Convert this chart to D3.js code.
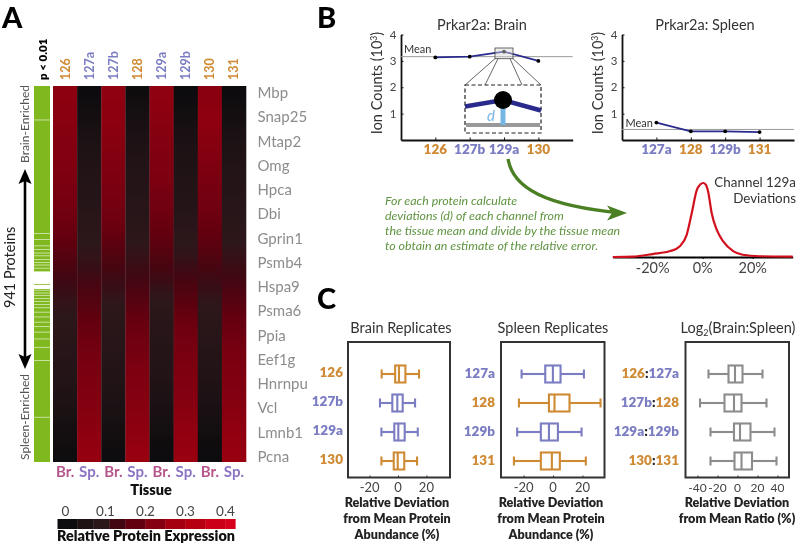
<!DOCTYPE html>
<html><head><meta charset="utf-8">
<script src="https://cdn.jsdelivr.net/npm/d3@7"></script>
<style>
html,body{margin:0;padding:0;background:#fff}
svg{display:block;filter:blur(0.45px)}
text{font-family:Lato,"Open Sans",sans-serif}
</style></head><body>
<svg id="c" width="800" height="546"></svg>
<script>
// ---------- Panel A data ----------
const channels=["126","127a","127b","128","129a","129b","130","131"];
const tissues=["Br.","Sp.","Br.","Sp.","Br.","Sp.","Br.","Sp."];
const genes=["Mbp","Snap25","Mtap2","Omg","Hpca","Dbi","Gprin1","Psmb4","Hspa9","Psma6","Ppia","Eef1g","Hnrnpu","Vcl","Lmnb1","Pcna"];
const ch126 =[.235,.235,.23,.23,.225,.22,.22,.215,.21,.205,.2,.19,.18,.17,.155,.14,.125,.115,.105,.095,.09,.085,.08,.07,.065,.055,.05,.04,.03,.02,.012,.005];
const ch127a=[.003,.01,.02,.03,.04,.05,.055,.06,.065,.07,.075,.085,.09,.095,.105,.115,.13,.145,.155,.17,.18,.19,.2,.205,.21,.215,.22,.225,.23,.24,.245,.25];
const ch127b=[.24,.24,.235,.235,.23,.225,.22,.215,.21,.205,.2,.19,.18,.165,.15,.135,.12,.11,.1,.09,.085,.08,.075,.07,.06,.055,.045,.04,.03,.02,.01,.005];
const ch128 =[.008,.015,.025,.035,.045,.05,.06,.065,.07,.075,.08,.085,.09,.1,.11,.12,.13,.145,.16,.175,.185,.195,.2,.21,.215,.22,.225,.23,.235,.24,.25,.255];
const ch129a=[.24,.24,.235,.23,.225,.22,.215,.215,.21,.2,.195,.185,.175,.165,.15,.135,.12,.105,.095,.085,.08,.075,.07,.065,.06,.05,.045,.035,.025,.015,.008,.002];
const ch129b=[.002,.008,.018,.028,.038,.045,.05,.055,.06,.065,.07,.08,.09,.095,.105,.12,.135,.15,.165,.18,.19,.2,.205,.21,.215,.22,.225,.23,.24,.245,.25,.26];
const ch130 =[.23,.23,.235,.24,.23,.225,.22,.21,.205,.2,.195,.185,.175,.165,.15,.135,.12,.11,.1,.09,.085,.08,.07,.065,.06,.05,.045,.035,.025,.015,.008,.003];
const ch131 =[.003,.01,.02,.03,.04,.05,.055,.065,.07,.075,.08,.085,.09,.1,.11,.12,.13,.145,.16,.175,.185,.195,.205,.21,.215,.22,.225,.23,.24,.245,.25,.255];
const heatColumns=[ch126,ch127a,ch127b,ch128,ch129a,ch129b,ch130,ch131];
const proteinCount=941;
const notSignificant=[[84,86],[368,370],[383,385],[399,401],[408,410],[417,419],[424,426],[433,435],[441,443],[447,449],[455,457],[464,496],[498,508],[510,512],[517,519],[523,525],[531,533],[538,540],[546,548],[554,556],[565,567],[577,579],[590,592],[601,603],[615,617],[632,634],[653,655],[686,688],[828,830]];
const colorStops=[0,.05,.1,.125,.17,.22,.27,.33,.4];
const colorValues=["#0b0b0d","#1e1215","#2e171b","#3f0812","#60000f","#820010","#a30010","#b8000f","#d5001a"];
const legendSteps=[-.02,.03,.07,.11,.15,.2,.25,.3,.35,.4];
const legendTicks=[0,.1,.2,.3,.4];
// ---------- Panel B data ----------
const brainChannels=["126","127b","129a","130"];
const brainCounts=[3.13,3.16,3.35,3.0];
const brainMean=3.16;
const spleenChannels=["127a","128","129b","131"];
const spleenCounts=[.66,.33,.33,.3];
const spleenMean=.4;
const countTicks=[1,2,3,4];
const devX=[-36,-28,-20,-13,-9,-6.4,-4.4,-2.4,-1,.2,1.2,2.2,3.6,5.6,8.2,12.2,16,22.8,36];
const devY=[0,.005,.04,.08,.15,.3,.59,.9,.98,1,.98,.88,.59,.37,.21,.08,.03,.01,.005];
const devTicks=[-20,0,20];
// ---------- Panel C data: [low whisker, q1, median, q3, high whisker] ----------
const brainRows=["126","127b","129a","130"];
const brainBoxes=[[-11.5,-2,.7,5.2,14.8],[-12.7,-4,-.5,3.3,12],[-11.7,-2.6,.2,4.7,13.9],[-11.7,-3,-.2,4.4,13.4]];
const spleenRows=["127a","128","129b","131"];
const spleenBoxes=[[-21.4,-5.3,-.1,5.1,21],[-23.2,-2.8,1,11.2,32.3],[-24.4,-8.3,-2.8,3.3,19.4],[-26.6,-8.3,-.8,4.6,22.3]];
const ratioRows=[["126","127a"],["127b","128"],["129a","129b"],["130","131"]];
const ratioBoxes=[[-29,-9,-2.5,5,25],[-37.5,-13,-3.5,4,29],[-27,-3.5,2.5,13,37],[-27,-3,4,14.5,39]];

const ORANGE="#cf8a34",PURPLE="#7b7dc2",DK="#333",BLUE="#2a2a8c";
const chColor=c=>({"126":ORANGE,"128":ORANGE,"130":ORANGE,"131":ORANGE}[c]||PURPLE);
const svg=d3.select("#c");
function label(x,y,t,o={}){
  const e=svg.append("text").attr("x",x).attr("y",y).text(t)
    .attr("font-size",o.size||12).attr("fill",o.fill||DK)
    .attr("text-anchor",o.anchor||"start").attr("font-weight",o.weight||400);
  if(o.style)e.attr("font-style",o.style);
  if(o.rot!=null)e.attr("transform",`rotate(${o.rot} ${x} ${y})`);
  return e;
}
// panel letters
label(2,28,"A",{size:29,weight:900,fill:"#000"});
label(317,28,"B",{size:29,weight:900,fill:"#000"});
label(317,309,"C",{size:29,weight:900,fill:"#000"});

// ========== A ==========
const hx=d3.scaleBand().domain(channels.map((d,i)=>i)).range([53,246]);
const heatColor=d3.scaleLinear().domain(colorStops).range(colorValues).clamp(true);
const defs=svg.append("defs");
const gHeat=svg.append("g");
heatColumns.forEach((col,i)=>{
  const rowPos=d3.scalePoint().domain(d3.range(col.length)).range([0,100]);
  defs.append("linearGradient").attr("id","col"+i).attr("x1",0).attr("x2",0).attr("y1",0).attr("y2",1)
    .selectAll("stop").data(col).join("stop")
    .attr("offset",(d,r)=>rowPos(r)+"%").attr("stop-color",d=>heatColor(d));
  gHeat.append("rect").attr("x",hx(i)).attr("width",hx.bandwidth()+.3).attr("y",86).attr("height",376).attr("fill",`url(#col${i})`);
  label(hx(i)+hx.bandwidth()/2+4.5,80,channels[i],{size:12.5,weight:700,fill:chColor(channels[i]),rot:-90});
  label(hx(i)+hx.bandwidth()/2,477,tissues[i],{size:15,weight:700,anchor:"middle",fill:tissues[i]==="Br."?"#b5558a":"#8b72c4"});
});
// significance strip
const py=d3.scaleLinear().domain([0,proteinCount]).range([86,462]);
svg.append("rect").attr("x",34).attr("y",py(0)).attr("width",16).attr("height",py(proteinCount)-py(0)).attr("fill","#80b91f");
svg.append("g").selectAll("rect").data(notSignificant).join("rect")
  .attr("x",34).attr("width",16).attr("y",d=>py(d[0])).attr("height",d=>py(d[1])-py(d[0]))
  .attr("fill","#fff").attr("opacity",d=>d[1]-d[0]>5?1:.7);
label(47,80,"p < 0.01",{size:11.5,weight:800,fill:"#000",rot:-90});
genes.forEach((g,i)=>{
  label(257.5,d3.scaleLinear().domain([0,genes.length-1]).range([98,462])(i),g,{size:15,fill:"#8c8c8c"});
});
label(29,163,"Brain-Enriched",{size:12,fill:"#555",rot:-90});
label(29,460,"Spleen-Enriched",{size:12,fill:"#555",rot:-90});
label(15,308,"941 Proteins",{size:14.5,fill:"#222",rot:-90});
svg.append("line").attr("x1",25).attr("x2",25).attr("y1",178).attr("y2",360).attr("stroke","#000").attr("stroke-width",2.6);
svg.append("path").attr("d","M25 169L18.5 184L25 181L31.5 184Z").attr("fill","#000");
svg.append("path").attr("d","M25 369L18.5 354L25 357L31.5 354Z").attr("fill","#000");
label(151,495,"Tissue",{size:14.5,weight:800,fill:"#111",anchor:"middle"});
// colour legend
const lx=d3.scaleLinear().domain([0,.4]).range([65.5,225.5]);
svg.append("g").selectAll("rect").data(d3.pairs(legendSteps.concat([.4245]))).join("rect")
  .attr("x",d=>lx(d[0])).attr("y",519).attr("height",10).attr("width",d=>lx(d[1])-lx(d[0])+.3)
  .attr("fill",d=>heatColor(Math.max(0,(d[0]+d[1])/2)));
legendTicks.forEach(t=>label(lx(t),516,t===0?"0":String(t),{size:13.5,fill:"#444",anchor:"middle"}));
label(146,541,"Relative Protein Expression",{size:14.4,weight:800,fill:"#111",anchor:"middle"});

// ========== B ==========
function linePlot(dom,vals,mean,x0,x1,title,titleX,meanX,meanAnchorVal,ylabelX){
  const x=d3.scalePoint().domain(dom).range([x0,x1]).padding(1);
  const y=d3.scaleLinear().domain([0,4]).range([140,34.5]);
  const gx=svg.append("g").attr("transform","translate(0,140)").call(d3.axisBottom(x).tickSize(-2.5).tickSizeOuter(0).tickFormat(""));
  gx.selectAll("path,line").attr("stroke","#111");gx.select("path").attr("stroke-width",1.8);
  const gy=svg.append("g").attr("transform",`translate(${x0},0)`).call(d3.axisLeft(y).tickValues(countTicks).tickSize(-2.5).tickSizeOuter(0).tickFormat(""));
  gy.selectAll("path,line").attr("stroke","#111");gy.select("path").attr("stroke-width",1.8);
  countTicks.forEach(t=>label(x0-4.5,y(t)+4,String(t),{size:11.5,fill:"#444",anchor:"end"}));
  svg.append("line").attr("x1",x0).attr("x2",x1).attr("y1",y(mean)).attr("y2",y(mean)).attr("stroke","#9a9a9a").attr("stroke-width",1);
  svg.append("path").attr("d",d3.line().x((d,i)=>x(dom[i])).y(d=>y(d))(vals)).attr("fill","none").attr("stroke",BLUE).attr("stroke-width",1.7);
  svg.append("g").selectAll("circle").data(vals).join("circle").attr("cx",(d,i)=>x(dom[i])).attr("cy",d=>y(d)).attr("r",1.9).attr("fill","#000");
  dom.forEach(c=>label(x(c),153.5,c,{size:13.5,weight:800,fill:chColor(c),anchor:"middle"}));
  label(titleX,30,title,{size:14.5,fill:"#333",anchor:"middle"});
  label(meanX,meanAnchorVal,"Mean",{size:11,fill:"#333"});
  const yl=label(ylabelX,83,"Ion Counts (10",{size:14.5,fill:"#333",anchor:"middle",rot:-90});
  yl.append("tspan").text("3").attr("font-size",8.5).attr("dy",-5);
  yl.append("tspan").text(")").attr("dy",5);
  return {x,y};
}
const bp=linePlot(brainChannels,brainCounts,brainMean,401,572.7,"Prkar2a: Brain",482,404,53,381.5);
linePlot(spleenChannels,spleenCounts,spleenMean,622,794,"Prkar2a: Spleen",705,625.5,127,603);

// inset: the same points through a magnified scale
const sb={x0:495,x1:513,y0:48,y1:58.7}, ib={x0:465,x1:541,y0:85,y1:133};
svg.append("rect").attr("x",sb.x0).attr("y",sb.y0).attr("width",sb.x1-sb.x0).attr("height",sb.y1-sb.y0).attr("fill","#d8d8d8").attr("fill-opacity",.45).attr("stroke","#444").attr("stroke-width",.8);
[[sb.x0,sb.y1,ib.x0,ib.y0],[sb.x1,sb.y1,ib.x1,ib.y0],[sb.x0+3,sb.y1,485,ib.y0],[sb.x1-3,sb.y1,522,ib.y0]].forEach(l=>{
  svg.append("line").attr("x1",l[0]).attr("y1",l[1]).attr("x2",l[2]).attr("y2",l[3]).attr("stroke","#555").attr("stroke-width",.9);
});
const insetX=d3.scaleLinear().domain([-.917,.917]).range([ib.x0,ib.x1]);
const insetY=d3.scaleLinear().domain([3.35,3.16]).range([100,125]);
svg.append("rect").attr("x",ib.x0).attr("y",ib.y0).attr("width",ib.x1-ib.x0).attr("height",ib.y1-ib.y0).attr("fill","#fff").attr("stroke","#222").attr("stroke-width",1.2).attr("stroke-dasharray","4 2.5");
svg.append("line").attr("x1",ib.x0+1).attr("x2",ib.x1-1).attr("y1",insetY(brainMean)).attr("y2",insetY(brainMean)).attr("stroke","#999").attr("stroke-width",4);
svg.append("line").attr("x1",insetX(0)).attr("x2",insetX(0)).attr("y1",insetY(brainCounts[2])).attr("y2",insetY(brainMean)).attr("stroke","#75b7e4").attr("stroke-width",5);
svg.append("path").attr("d",d3.line().x(d=>insetX(d[0])).y(d=>insetY(d[1]))([[-.917,3.3],[0,3.35],[.917,3.27]])).attr("fill","none").attr("stroke",BLUE).attr("stroke-width",4.5);
svg.append("circle").attr("cx",insetX(0)).attr("cy",insetY(brainCounts[2])).attr("r",9).attr("fill","#000");
label(487,121,"d",{size:15,fill:"#75b7e4",style:"italic"});

// curved arrow
svg.append("path").attr("d","M508 159C513 188 545 206 622 213").attr("fill","none").attr("stroke","#4a7f23").attr("stroke-width",3.4);
svg.append("path").attr("d","M627 213L607 205.5L612 213L607 220.5Z").attr("fill","#4a7f23");
["For each protein calculate","deviations (d) of each channel from","the tissue mean and divide by the tissue mean","to obtain an estimate of the relative error."]
 .forEach((t,i)=>label(385,[205,220,235,250][i],t,{size:12.4,fill:"#5f9440",style:"italic"}));

// deviation density
const dx=d3.scaleLinear().domain([-36,36]).range([612.7,792.7]);
const dy=d3.scaleLinear().domain([0,1]).range([257,183]);
const gd=svg.append("g").attr("transform","translate(0,257)").call(d3.axisBottom(dx).tickValues(devTicks).tickSize(2).tickSizeOuter(0).tickFormat(""));
gd.selectAll("path,line").attr("stroke","#000");gd.select("path").attr("stroke-width",2);
svg.append("path").attr("d",d3.line().x((d,i)=>dx(devX[i])).y(d=>dy(d)).curve(d3.curveMonotoneX)(devY)).attr("fill","none").attr("stroke","#d3101e").attr("stroke-width",2.2);
devTicks.forEach(t=>label(dx(t),273,t+"%",{size:14.5,fill:"#444",anchor:"middle"}));
label(796,187,"Channel 129a",{size:13.4,fill:"#333",anchor:"end"});
label(796,203,"Deviations",{size:13.4,fill:"#333",anchor:"end"});

// ========== C ==========
function boxPanel(o){
  const x=d3.scaleLinear().domain(o.domain).range([o.x0,o.x1]);
  const y=d3.scalePoint().domain([0,1,2,3]).range([374,461]);
  const H=17,C=9;
  const g=svg.append("g");
  g.append("rect").attr("x",o.x0).attr("y",342).attr("width",o.x1-o.x0).attr("height",135.5).attr("fill","#fff").attr("stroke","#333").attr("stroke-width",2);
  const ax=svg.append("g").attr("transform","translate(0,477.5)").call(d3.axisBottom(x).tickValues(o.ticks).tickSize(-2).tickSizeOuter(0).tickFormat(""));
  ax.select("path").remove();ax.selectAll("line").attr("stroke","#333");
  o.ticks.forEach(t=>label(x(t),491.5,String(t),{size:o.tickSize||13,fill:"#444",anchor:"middle"}));
  o.boxes.forEach((b,i)=>{
    const c=o.color(i),cy=y(i);
    const s=sel=>sel.attr("stroke",c).attr("stroke-width",2.1).attr("fill","none");
    s(g.append("line").attr("x1",x(b[0])).attr("x2",x(b[1])).attr("y1",cy).attr("y2",cy));
    s(g.append("line").attr("x1",x(b[3])).attr("x2",x(b[4])).attr("y1",cy).attr("y2",cy));
    s(g.append("line").attr("x1",x(b[0])).attr("x2",x(b[0])).attr("y1",cy-C/2).attr("y2",cy+C/2));
    s(g.append("line").attr("x1",x(b[4])).attr("x2",x(b[4])).attr("y1",cy-C/2).attr("y2",cy+C/2));
    s(g.append("rect").attr("x",x(b[1])).attr("y",cy-H/2).attr("width",x(b[3])-x(b[1])).attr("height",H));
    s(g.append("line").attr("x1",x(b[2])).attr("x2",x(b[2])).attr("y1",cy-H/2).attr("y2",cy+H/2));
    o.rowLabel(i,cy);
  });
  if(o.title)label(o.titleX,333,o.title,{size:14.5,fill:"#333",anchor:"middle"});
  o.xlabel.forEach((t,i)=>label(o.labelX,507+i*16,t,{size:12.6,weight:800,fill:"#222",anchor:"middle"}));
  return x;
}
boxPanel({domain:[-35.2,36.6],x0:348,x1:450,ticks:[-20,0,20],boxes:brainBoxes,color:i=>chColor(brainRows[i]),
  rowLabel:(i,cy)=>label(343,cy+3,brainRows[i],{size:13.5,weight:800,fill:chColor(brainRows[i]),anchor:"end"}),
  titleX:401,title:"Brain Replicates",labelX:397,xlabel:["Relative Deviation","from Mean Protein","Abundance (%)"]});
boxPanel({domain:[-35.4,35],x0:501,x1:604.5,ticks:[-20,0,20],boxes:spleenBoxes,color:i=>chColor(spleenRows[i]),
  rowLabel:(i,cy)=>label(495,cy+4,spleenRows[i],{size:13.5,weight:800,fill:chColor(spleenRows[i]),anchor:"end"}),
  titleX:553,title:"Spleen Replicates",labelX:551,xlabel:["Relative Deviation","from Mean Protein","Abundance (%)"]});
boxPanel({domain:[-52,51.5],x0:685.5,x1:789,ticks:[-40,-20,0,20,40],tickSize:12,boxes:ratioBoxes,color:()=>"#8c8c8c",
  rowLabel:(i,cy)=>{
    const t=label(679,cy+4,"",{size:13.5,weight:800,anchor:"end"});
    t.append("tspan").text(ratioRows[i][0]).attr("fill",chColor(ratioRows[i][0]));
    t.append("tspan").text(":").attr("fill","#222");
    t.append("tspan").text(ratioRows[i][1]).attr("fill",chColor(ratioRows[i][1]));
  },
  labelX:737,xlabel:["Relative Deviation","from Mean Ratio (%)"]});
const lt=label(738,333,"Log",{size:14.5,fill:"#333",anchor:"middle"});
lt.append("tspan").text("2").attr("font-size",9).attr("dy",3);
lt.append("tspan").text("(Brain:Spleen)").attr("dy",-3);
</script></body></html>
